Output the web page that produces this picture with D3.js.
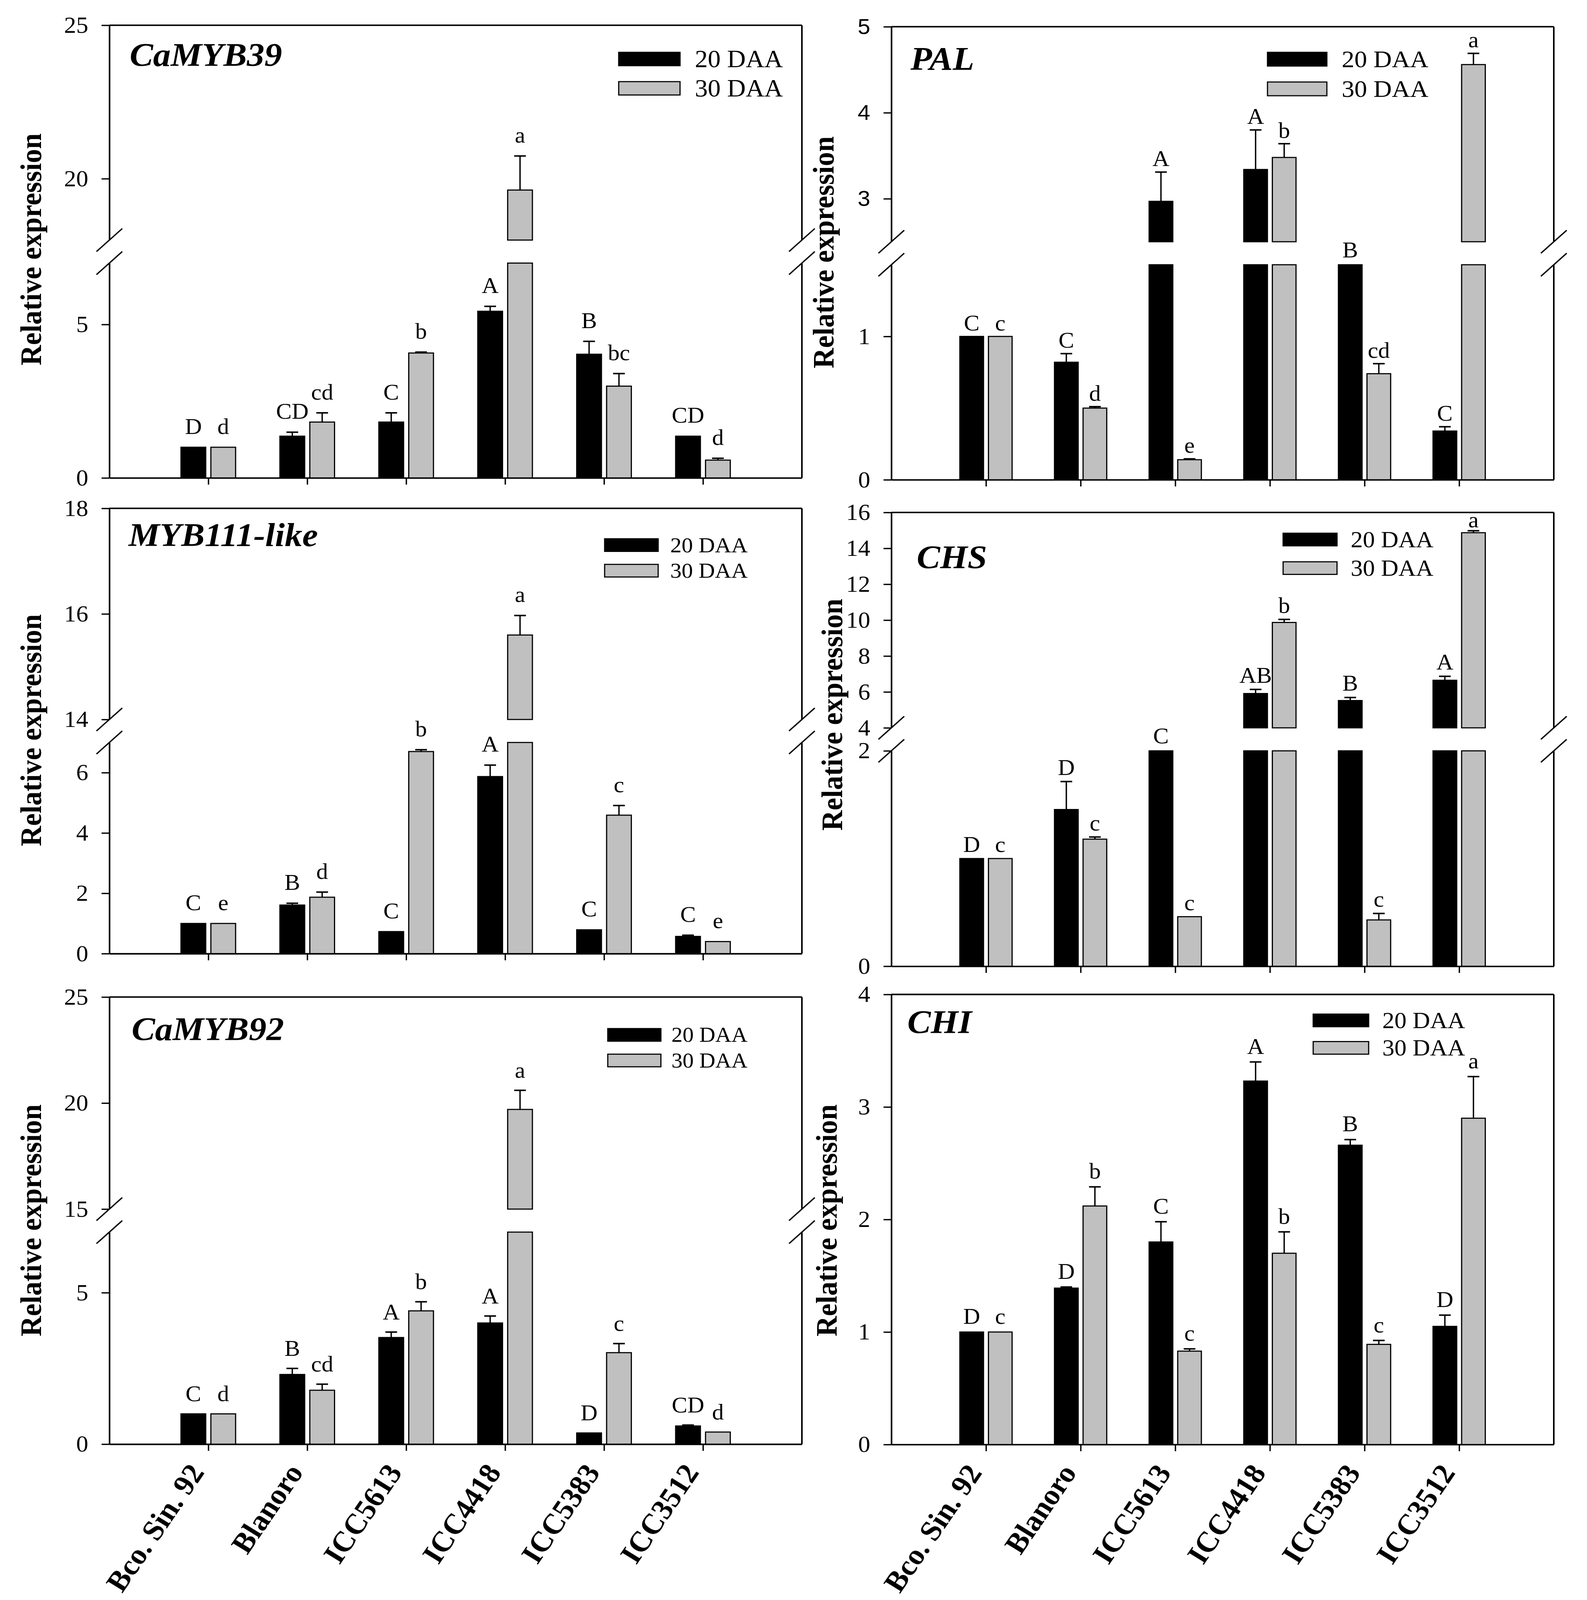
<!DOCTYPE html>
<html>
<head>
<meta charset="utf-8">
<script src="https://cdn.jsdelivr.net/npm/d3@7"></script>
<style>
  html, body { margin: 0; padding: 0; height: 100%; overflow: hidden; background: #fff; }
  #chart { display: block; width: 100vw; height: 100vh; }
  text { font-family: "Liberation Serif", "Times New Roman", serif; fill: #000; }
</style>
</head>
<body>
<svg id="chart" viewBox="0 0 4063 4312" preserveAspectRatio="none"></svg>
<script>
// cultivars on the x axis
const cultivars = ["Bco. Sin. 92", "Blanoro", "ICC5613", "ICC4418", "ICC5383", "ICC3512"];
const seriesNames = ["20 DAA", "30 DAA"];

// CaMYB39
const camyb39Day20 = [1.0, 1.36, 1.82, 5.43, 4.03, 1.36];
const camyb39Err20 = [0, 0.13, 0.30, 0.16, 0.42, 0];
const camyb39Day30 = [1.0, 1.82, 4.07, 19.63, 2.99, 0.58];
const camyb39Err30 = [0, 0.30, 0.03, 1.11, 0.41, 0.06];
const camyb39Let20 = ["D", "CD", "C", "A", "B", "CD"];
const camyb39Let30 = ["d", "cd", "b", "a", "bc", "d"];
const camyb39Lower = [0, 7], camyb39Upper = [18, 25];
const camyb39TicksLow = [0, 5], camyb39TicksHigh = [20, 25];

// PAL
const palDay20 = [1.0, 0.82, 2.97, 3.34, 2.0, 0.34];
const palErr20 = [0, 0.06, 0.34, 0.46, 0, 0.03];
const palDay30 = [1.0, 0.50, 0.14, 3.48, 0.74, 4.56];
const palErr30 = [0, 0.01, 0.006, 0.16, 0.07, 0.13];
const palLet20 = ["C", "C", "A", "A", "B", "C"];
const palLet30 = ["c", "d", "e", "b", "cd", "a"];
const palLower = [0, 1.5], palUpper = [2.5, 5];
const palTicksLow = [0, 1], palTicksHigh = [3, 4, 5];

// MYB111-like
const myb111Day20 = [1.0, 1.61, 0.73, 5.87, 0.79, 0.57];
const myb111Err20 = [0, 0.06, 0, 0.38, 0, 0.04];
const myb111Day30 = [1.0, 1.87, 6.70, 15.6, 4.59, 0.40];
const myb111Err30 = [0, 0.17, 0.06, 0.37, 0.32, 0];
const myb111Let20 = ["C", "B", "C", "A", "C", "C"];
const myb111Let30 = ["e", "d", "b", "a", "c", "e"];
const myb111Lower = [0, 7], myb111Upper = [14, 18];
const myb111TicksLow = [0, 2, 4, 6], myb111TicksHigh = [14, 16, 18];

// CHS
const chsDay20 = [1.0, 1.455, 3.0, 5.91, 5.52, 6.65];
const chsErr20 = [0, 0.26, 0, 0.23, 0.17, 0.22];
const chsDay30 = [1.0, 1.18, 0.46, 9.87, 0.43, 14.87];
const chsErr30 = [0, 0.02, 0, 0.17, 0.06, 0.11];
const chsLet20 = ["D", "D", "C", "AB", "B", "A"];
const chsLet30 = ["c", "c", "c", "b", "c", "a"];
const chsLower = [0, 2], chsUpper = [4, 16];
const chsTicksLow = [0, 2], chsTicksHigh = [4, 6, 8, 10, 12, 14, 16];

// CaMYB92
const camyb92Day20 = [1.0, 2.3, 3.52, 4.0, 0.37, 0.6];
const camyb92Err20 = [0, 0.2, 0.18, 0.23, 0, 0.03];
const camyb92Day30 = [1.0, 1.78, 4.4, 19.7, 3.02, 0.4];
const camyb92Err30 = [0, 0.2, 0.3, 0.9, 0.3, 0];
const camyb92Let20 = ["C", "B", "A", "A", "D", "CD"];
const camyb92Let30 = ["d", "cd", "b", "a", "c", "d"];
const camyb92Lower = [0, 7], camyb92Upper = [15, 25];
const camyb92TicksLow = [0, 5], camyb92TicksHigh = [15, 20, 25];

// CHI
const chiDay20 = [1.0, 1.39, 1.80, 3.23, 2.66, 1.05];
const chiErr20 = [0, 0.01, 0.18, 0.17, 0.05, 0.10];
const chiDay30 = [1.0, 2.12, 0.83, 1.70, 0.89, 2.90];
const chiErr30 = [0, 0.17, 0.02, 0.19, 0.035, 0.37];
const chiLet20 = ["D", "D", "C", "A", "B", "D"];
const chiLet30 = ["c", "b", "c", "b", "c", "a"];
const chiLower = [0, 4];
const chiTicksLow = [0, 1, 2, 3, 4];

// panel table built from the arrays above, plus where each panel sits on the page
const panels = [
  { gene: "CaMYB39", v: [camyb39Day20, camyb39Day30], e: [camyb39Err20, camyb39Err30], l: [camyb39Let20, camyb39Let30],
    lower: camyb39Lower, upper: camyb39Upper, tLow: camyb39TicksLow, tHigh: camyb39TicksHigh, letGap: 36,
    box: [280, 2053, 68, 1288], title: [332, 178], ylab: [105, 672], leg: [1584, 157, 141, 220, 36, 1779, 66], xlab: false },
  { gene: "PAL", v: [palDay20, palDay30], e: [palErr20, palErr30], l: [palLet20, palLet30],
    lower: palLower, upper: palUpper, tLow: palTicksLow, tHigh: palTicksHigh, sansHigh: true, letGap: 16,
    box: [2282, 3978, 72, 1293], title: [2331, 188], ylab: [2134, 680], leg: [3245, 152, 141, 221, 37, 3435, 65], xlab: false },
  { gene: "MYB111-like", v: [myb111Day20, myb111Day30], e: [myb111Err20, myb111Err30], l: [myb111Let20, myb111Let30],
    lower: myb111Lower, upper: myb111Upper, tLow: myb111TicksLow, tHigh: myb111TicksHigh, letGap: 36,
    box: [280, 2053, 1370, 2570], title: [329, 1472], ylab: [105, 1968], leg: [1548, 137, 1452, 1521, 34, 1716, 58], xlab: false },
  { gene: "CHS", v: [chsDay20, chsDay30], e: [chsErr20, chsErr30], l: [chsLet20, chsLet30],
    lower: chsLower, upper: chsUpper, tLow: chsTicksLow, tHigh: chsTicksHigh, letGap: 18,
    box: [2282, 3978, 1381, 2604], title: [2347, 1532], ylab: [2156, 1926], leg: [3285, 138, 1437, 1514, 34, 3458, 62], xlab: false },
  { gene: "CaMYB92", v: [camyb92Day20, camyb92Day30], e: [camyb92Err20, camyb92Err30], l: [camyb92Let20, camyb92Let30],
    lower: camyb92Lower, upper: camyb92Upper, tLow: camyb92TicksLow, tHigh: camyb92TicksHigh, letGap: 34,
    box: [280, 2053, 2687, 3892], title: [337, 2803], ylab: [105, 3289], leg: [1556, 136, 2772, 2841, 34, 1719, 57], xlab: true },
  { gene: "CHI", v: [chiDay20, chiDay30], e: [chiErr20, chiErr30], l: [chiLet20, chiLet30],
    lower: chiLower, upper: null, tLow: chiTicksLow, tHigh: null, letGap: 22,
    box: [2282, 3978, 2680, 3893], title: [2323, 2785], ylab: [2142, 3289], leg: [3362, 142, 2733, 2807, 34, 3539, 62], xlab: true }
];

const fills = ["#000000", "#c0c0c0"];
const GAP = 62;        // height of the axis break
const svg = d3.select("#chart");
svg.append("rect").attr("width", 4063).attr("height", 4312).attr("fill", "#fff");

function styleAxis(sel, fontSize, family) {
  sel.select(".domain").attr("stroke", "#000").attr("stroke-width", 4);
  sel.selectAll(".tick line").attr("stroke", "#000").attr("stroke-width", 3.5);
  sel.selectAll(".tick text").attr("font-size", fontSize).attr("fill", "#000")
    .style("font-family", family || '"Liberation Serif", "Times New Roman", serif');
}

panels.forEach(p => {
  const [x0, x1, y0, y1] = p.box;
  const g = svg.append("g");

  const x = d3.scalePoint().domain(cultivars).range([x0, x1]).padding(1);
  const step = x.step();
  const bw = step * 0.25, bg = step * 0.052;

  let yLow, yHigh = null, segH = 0;
  if (p.upper) {
    segH = (y1 - y0 - GAP) / 2;
    yHigh = d3.scaleLinear().domain(p.upper).range([y0 + segH, y0]);
    yLow = d3.scaleLinear().domain(p.lower).range([y1, y1 - segH]);
  } else {
    yLow = d3.scaleLinear().domain(p.lower).range([y1, y0]);
  }

  // frame: top edge and right edge
  g.append("line").attr("x1", x0).attr("x2", x1).attr("y1", y0).attr("y2", y0)
    .attr("stroke", "#000").attr("stroke-width", 4);
  const rightSegs = p.upper ? [[y0, y0 + segH], [y1 - segH, y1]] : [[y0, y1]];
  rightSegs.forEach(s => g.append("line").attr("x1", x1).attr("x2", x1).attr("y1", s[0]).attr("y2", s[1])
    .attr("stroke", "#000").attr("stroke-width", 4));

  // left axis (one or two pieces)
  const axLow = d3.axisLeft(yLow).tickValues(p.tLow).tickSize(20).tickPadding(34).tickSizeOuter(0).tickFormat(d3.format("d"));
  g.append("g").attr("transform", `translate(${x0},0)`).call(axLow).call(s => styleAxis(s, 62));
  if (p.upper) {
    const axHigh = d3.axisLeft(yHigh).tickValues(p.tHigh).tickSize(20).tickPadding(34).tickSizeOuter(0).tickFormat(d3.format("d"));
    g.append("g").attr("transform", `translate(${x0},0)`).call(axHigh)
      .call(s => styleAxis(s, p.sansHigh ? 58 : 62, p.sansHigh ? '"Liberation Sans", Arial, sans-serif' : null));

    // break marks on both vertical edges
    [x0, x1].forEach(ax => {
      [y0 + segH, y1 - segH].forEach(yb => {
        g.append("line").attr("x1", ax - 33).attr("y1", yb + 31).attr("x2", ax + 33).attr("y2", yb - 31)
          .attr("stroke", "#000").attr("stroke-width", 3.5);
      });
    });
  }

  // bottom axis
  const axB = d3.axisBottom(x).tickSize(18).tickSizeOuter(0).tickFormat("");
  g.append("g").attr("transform", `translate(0,${y1})`).call(axB).call(s => styleAxis(s, 62));

  // bars, error bars and letters
  const items = [];
  cultivars.forEach((c, i) => {
    [0, 1].forEach(k => {
      const v = p.v[k][i], err = p.e[k][i];
      const left = k === 0 ? x(c) - bg / 2 - bw : x(c) + bg / 2;
      items.push({ c, k, v, err, left, cx: left + bw / 2, letter: p.l[k][i] });
    });
  });

  const lowMax = p.lower[1];
  const scaleFor = d => {
    if (p.upper && d.v > p.upper[0]) return yHigh;
    if (!p.upper || d.v <= lowMax) return yLow;
    return null;   // value falls inside the break
  };

  const barG = g.append("g");
  barG.selectAll("rect.low").data(items).join("rect").attr("class", "low")
    .attr("x", d => d.left).attr("width", bw)
    .attr("y", d => yLow(Math.min(d.v, lowMax)))
    .attr("height", d => yLow(0) - yLow(Math.min(d.v, lowMax)))
    .attr("fill", d => fills[d.k]).attr("stroke", "#000").attr("stroke-width", 3);

  if (p.upper) {
    barG.selectAll("rect.high").data(items.filter(d => d.v > p.upper[0])).join("rect").attr("class", "high")
      .attr("x", d => d.left).attr("width", bw)
      .attr("y", d => yHigh(d.v))
      .attr("height", d => yHigh(p.upper[0]) - yHigh(d.v))
      .attr("fill", d => fills[d.k]).attr("stroke", "#000").attr("stroke-width", 3);
  }

  const withErr = items.filter(d => d.err > 0 && scaleFor(d));
  barG.selectAll("line.err").data(withErr).join("line").attr("class", "err")
    .attr("x1", d => d.cx).attr("x2", d => d.cx)
    .attr("y1", d => scaleFor(d)(d.v)).attr("y2", d => scaleFor(d)(d.v + d.err))
    .attr("stroke", "#000").attr("stroke-width", 3.5);
  barG.selectAll("line.cap").data(withErr).join("line").attr("class", "cap")
    .attr("x1", d => d.cx - 15).attr("x2", d => d.cx + 15)
    .attr("y1", d => scaleFor(d)(d.v + d.err)).attr("y2", d => scaleFor(d)(d.v + d.err))
    .attr("stroke", "#000").attr("stroke-width", 4);

  barG.selectAll("text.let").data(items).join("text").attr("class", "let")
    .attr("x", d => d.cx)
    .attr("y", d => {
      const s = scaleFor(d);
      const yy = s ? s(d.v + d.err) - p.letGap : yLow(lowMax) - 20;
      return Math.max(yy, y0 + 40);
    })
    .attr("text-anchor", "middle").attr("font-size", 60)
    .text(d => d.letter);

  // gene name
  g.append("text").attr("x", p.title[0]).attr("y", p.title[1])
    .attr("font-size", 90).attr("font-weight", "bold").attr("font-style", "italic")
    .text(p.gene);

  // y axis title
  g.append("text").attr("transform", `translate(${p.ylab[0]},${p.ylab[1]}) rotate(-90)`)
    .attr("text-anchor", "middle").attr("font-size", 76).attr("font-weight", "bold")
    .text("Relative expression");

  // legend
  const [lx, lw, ly1, ly2, lh, tx, fs] = p.leg;
  const legG = g.append("g");
  legG.selectAll("rect").data(seriesNames).join("rect")
    .attr("x", lx).attr("width", lw)
    .attr("y", (d, i) => i === 0 ? ly1 : ly2).attr("height", lh)
    .attr("fill", (d, i) => fills[i]).attr("stroke", "#000").attr("stroke-width", 3);
  legG.selectAll("text").data(seriesNames).join("text")
    .attr("x", tx)
    .attr("y", (d, i) => (i === 0 ? ly1 : ly2) + lh / 2 + fs * 0.33)
    .attr("font-size", fs)
    .text(d => d);

  // cultivar names under the bottom row
  if (p.xlab) {
    g.selectAll("text.xl").data(cultivars).join("text").attr("class", "xl")
      .attr("transform", d => `translate(${x(d) - 8},${y1 + 76}) rotate(-57)`)
      .attr("text-anchor", "end").attr("font-size", 78).attr("font-weight", "bold")
      .text(d => d);
  }
});
</script>
</body>
</html>
